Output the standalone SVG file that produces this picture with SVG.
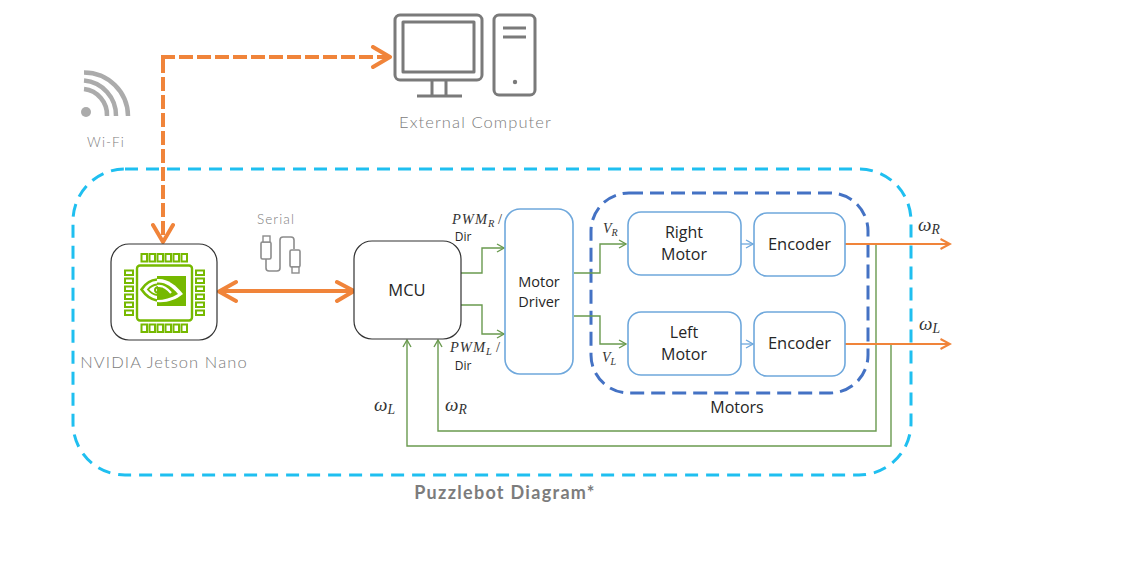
<svg xmlns="http://www.w3.org/2000/svg" width="1126" height="577" viewBox="0 0 1126 577">
<defs>
<style>
.box{fill:#fff;stroke:#6fa8dc;stroke-width:1.6}
.blk{fill:#fff;stroke:#333;stroke-width:1.2}
.t{font-family:"Open Sans","Liberation Sans",sans-serif;fill:#262626;text-anchor:middle}
.g{font-family:Lato,"Liberation Sans",sans-serif;font-weight:300;fill:#7c7c7c;text-anchor:middle;letter-spacing:1.1px}
.m{font-family:"Liberation Serif",serif;font-style:italic;fill:#333}
.sub{font-size:.72em}
.or{fill:none;stroke:#f0843a}
.gr{fill:none;stroke:#6a9a4f;stroke-width:1.4}
.ic{fill:none;stroke:#7a7a7a;stroke-width:3;stroke-linejoin:round}
.nv{fill:#fff;stroke:#76b900;stroke-width:2}
.wi{fill:none;stroke:#ababab;stroke-width:4.500}
</style>
<marker id="ag" markerWidth="9" markerHeight="10" refX="8" refY="5" orient="auto" markerUnits="userSpaceOnUse"><path d="M1 1L8 5L1 9" fill="none" stroke="#6a9a4f" stroke-width="1.4"/></marker>
<marker id="ab" markerWidth="9" markerHeight="10" refX="8" refY="5" orient="auto" markerUnits="userSpaceOnUse"><path d="M1 1L8 5L1 9" fill="none" stroke="#6fa8dc" stroke-width="1.3"/></marker>
<marker id="ao" markerWidth="12" markerHeight="12" refX="10.500" refY="6" orient="auto" markerUnits="userSpaceOnUse"><path d="M1 1L10.500 6L1 11" fill="none" stroke="#f0843a" stroke-width="2"/></marker>
<marker id="ah" markerWidth="24" markerHeight="24" refX="20" refY="12" orient="auto" markerUnits="userSpaceOnUse"><path d="M3 2L20 12L3 22" fill="none" stroke="#f0843a" stroke-width="4" stroke-linecap="round" stroke-linejoin="round"/></marker>
</defs>
<rect width="1126" height="577" fill="#fff"/>

<g id="boundary"><rect x="73" y="169" width="838" height="306" rx="52" fill="none" stroke="#1fbff0" stroke-width="3" stroke-dasharray="13 8"/>
<text class="g" x="505" y="499" font-size="18" style="font-weight:700;letter-spacing:1.300px">Puzzlebot Diagram*</text></g>
<g id="motors-group"><rect x="591" y="193" width="277" height="200" rx="38" fill="none" stroke="#4472c4" stroke-width="3" stroke-dasharray="14 7"/>
<text class="t" x="737" y="413" font-size="16">Motors</text></g>

<g id="connectors">
<path d="M163 59V242" class="or" stroke-width="4" stroke-dasharray="14 4" marker-end="url(#ah)"/>
<path d="M161 57H390" class="or" stroke-width="4" stroke-dasharray="14 4" marker-end="url(#ah)"/>
<path d="M220 291H352" class="or" stroke-width="4"/>
<path d="M236 282L219 291.500L236 301M337 282L354 291L337 301" class="or" stroke-width="4" stroke-linecap="round" stroke-linejoin="round"/>
<path d="M461 273H482V248H504" class="gr" marker-end="url(#ag)"/>
<path d="M461 305H482V334H504" class="gr" marker-end="url(#ag)"/>
<path d="M574 273H600V244H626" class="gr" marker-end="url(#ag)"/>
<path d="M574 316H600V344H626" class="gr" marker-end="url(#ag)"/>
<path d="M741 244H753" fill="none" stroke="#6fa8dc" stroke-width="1.3" marker-end="url(#ab)"/>
<path d="M741 344H753" fill="none" stroke="#6fa8dc" stroke-width="1.3" marker-end="url(#ab)"/>
<path d="M876 244V431H438V340" class="gr" marker-end="url(#ag)"/>
<path d="M891 344V446H407V340" class="gr" marker-end="url(#ag)"/>
<path d="M845 244H950" class="or" stroke-width="2" marker-end="url(#ao)"/>
<path d="M843 344H950" class="or" stroke-width="2" marker-end="url(#ao)"/>
</g>

<g id="wifi">
<circle cx="86" cy="112" r="5" fill="#ababab"/>
<path class="wi" d="M84 89A26 26 0 0 1 107 116M84 80.500A35 35 0 0 1 116 116M84 72.500A44 44 0 0 1 128 116"/>
<text class="g" x="106" y="147" font-size="13.500">Wi-Fi</text>
</g>

<g id="external-computer">
<rect x="395" y="15" width="87" height="65" rx="5" class="ic"/>
<rect x="403" y="22" width="71" height="50" class="ic"/>
<path class="ic" d="M432 80V96M446 80V96M417 96H462"/>
<rect x="494" y="15" width="41" height="80" rx="5" class="ic"/>
<path class="ic" d="M503 28H526M503 37H526"/>
<circle cx="515" cy="82" r="2.200" fill="#7a7a7a"/>
<text class="g" x="475.500" y="128" font-size="16.500">External Computer</text>
</g>

<g id="serial">
<text class="g" x="276" y="224" font-size="13.500">Serial</text>
<path fill="none" stroke="#8c8c8c" stroke-width="1.600" d="M266 259V268a3 3 0 0 0 3 3H277a3 3 0 0 0 3-3V240a3 3 0 0 1 3-3H291a3 3 0 0 1 3 3V249"/>
<rect x="261" y="242" width="10" height="17" rx="1.500" fill="#fff" stroke="#8c8c8c" stroke-width="1.600"/>
<rect x="263" y="236" width="7" height="6" fill="#fff" stroke="#8c8c8c" stroke-width="1.400"/>
<rect x="290" y="250" width="10" height="17" rx="1.500" fill="#fff" stroke="#8c8c8c" stroke-width="1.600"/>
<rect x="292" y="267" width="7" height="6" fill="#fff" stroke="#8c8c8c" stroke-width="1.400"/>
</g>

<g id="jetson">
<rect x="111" y="244" width="106" height="96" rx="18" class="blk"/>
<rect x="137" y="265.500" width="55" height="55" rx="3" fill="#fff" stroke="#76b900" stroke-width="2.400"/>
<g class="nv">
<rect x="141.500" y="254" width="5.500" height="7.500"/><rect x="149.500" y="254" width="5.500" height="7.500"/><rect x="157.500" y="254" width="5.500" height="7.500"/><rect x="165.500" y="254" width="5.500" height="7.500"/><rect x="173.500" y="254" width="5.500" height="7.500"/><rect x="181.500" y="254" width="5.500" height="7.500"/>
<rect x="141.500" y="324.500" width="5.500" height="7.500"/><rect x="149.500" y="324.500" width="5.500" height="7.500"/><rect x="157.500" y="324.500" width="5.500" height="7.500"/><rect x="165.500" y="324.500" width="5.500" height="7.500"/><rect x="173.500" y="324.500" width="5.500" height="7.500"/><rect x="181.500" y="324.500" width="5.500" height="7.500"/>
<rect x="125" y="270.500" width="8" height="4.500"/><rect x="125" y="278.500" width="8" height="4.500"/><rect x="125" y="286.500" width="8" height="4.500"/><rect x="125" y="294.500" width="8" height="4.500"/><rect x="125" y="302.500" width="8" height="4.500"/><rect x="125" y="310.500" width="8" height="4.500"/>
<rect x="196" y="270.500" width="8" height="4.500"/><rect x="196" y="278.500" width="8" height="4.500"/><rect x="196" y="286.500" width="8" height="4.500"/><rect x="196" y="294.500" width="8" height="4.500"/><rect x="196" y="302.500" width="8" height="4.500"/><rect x="196" y="310.500" width="8" height="4.500"/>
</g>
<rect x="157" y="276" width="29" height="30" fill="#76b900"/>
<path fill="#fff" d="M157 279C167 278 176 285 183 294C176 300 166 303 157 302Z"/>
<path fill="#76b900" d="M157 282.500C166 282 172 287 178 294C171 298 164 300 157 300Z"/>
<path fill="none" stroke="#76b900" stroke-width="2.600" d="M157 279.500C150 280 145 284 141.500 289.500C146 296 151 299.500 157 300.500"/>
<path fill="none" stroke="#fff" stroke-width="2.200" d="M157 286C162 285 167 288 171 293"/>
<path fill="none" stroke="#76b900" stroke-width="2" d="M157 284.500C153 285 150 287 148 289.500C150 292 153 294.500 157 295"/>
<path fill="none" stroke="#76b900" stroke-width="2" d="M158 287C154 288 154 292 158 293C162 292 163 290 162 288"/>
<text class="g" x="164" y="368" font-size="16.500">NVIDIA Jetson Nano</text>
</g>

<g id="mcu"><rect x="354" y="241" width="107" height="98" rx="18" class="blk"/>
<text class="t" x="407" y="296" font-size="16.500">MCU</text></g>

<g id="motor-driver"><rect x="505" y="209" width="68" height="165" rx="15" class="box"/>
<text class="t" x="539" y="287" font-size="14.500">Motor</text><text class="t" x="539" y="307" font-size="14.500">Driver</text></g>

<g id="right-motor"><rect x="628" y="212" width="113" height="63" rx="13" class="box"/>
<text class="t" x="684" y="238" font-size="16">Right</text><text class="t" x="684" y="260" font-size="16">Motor</text></g>

<g id="encoder-r"><rect x="754" y="213" width="91" height="63" rx="13" class="box"/>
<text class="t" x="799.500" y="250" font-size="16.500">Encoder</text></g>

<g id="left-motor"><rect x="628" y="312" width="113" height="63" rx="13" class="box"/>
<text class="t" x="684" y="338" font-size="16">Left</text><text class="t" x="684" y="360" font-size="16">Motor</text></g>

<g id="encoder-l"><rect x="754" y="312" width="91" height="64" rx="13" class="box"/>
<text class="t" x="799.500" y="349" font-size="16.500">Encoder</text></g>

<g id="labels">
<text class="m" x="452" y="224" font-size="14.500" style="letter-spacing:1px">PWM<tspan class="sub" dy="3">R</tspan><tspan dy="-3" font-style="normal" x="498">/</tspan></text>
<text class="t" x="463" y="241" font-size="12">Dir</text>
<text class="m" x="450" y="352" font-size="14.500" style="letter-spacing:1px">PWM<tspan class="sub" dy="3">L</tspan><tspan dy="-3" font-style="normal" x="496">/</tspan></text>
<text class="t" x="463" y="370" font-size="12">Dir</text>
<text class="m" x="603" y="233" font-size="14">V<tspan class="sub" dy="3">R</tspan></text>
<text class="m" x="602" y="362" font-size="14">V<tspan class="sub" dy="3">L</tspan></text>
<text class="m" x="374" y="411" font-size="19">ω<tspan class="sub" dy="3">L</tspan></text>
<text class="m" x="445" y="411" font-size="19">ω<tspan class="sub" dy="3">R</tspan></text>
<text class="m" x="918" y="231" font-size="19">ω<tspan class="sub" dy="3">R</tspan></text>
<text class="m" x="919" y="330" font-size="19">ω<tspan class="sub" dy="3">L</tspan></text>
</g>
</svg>
